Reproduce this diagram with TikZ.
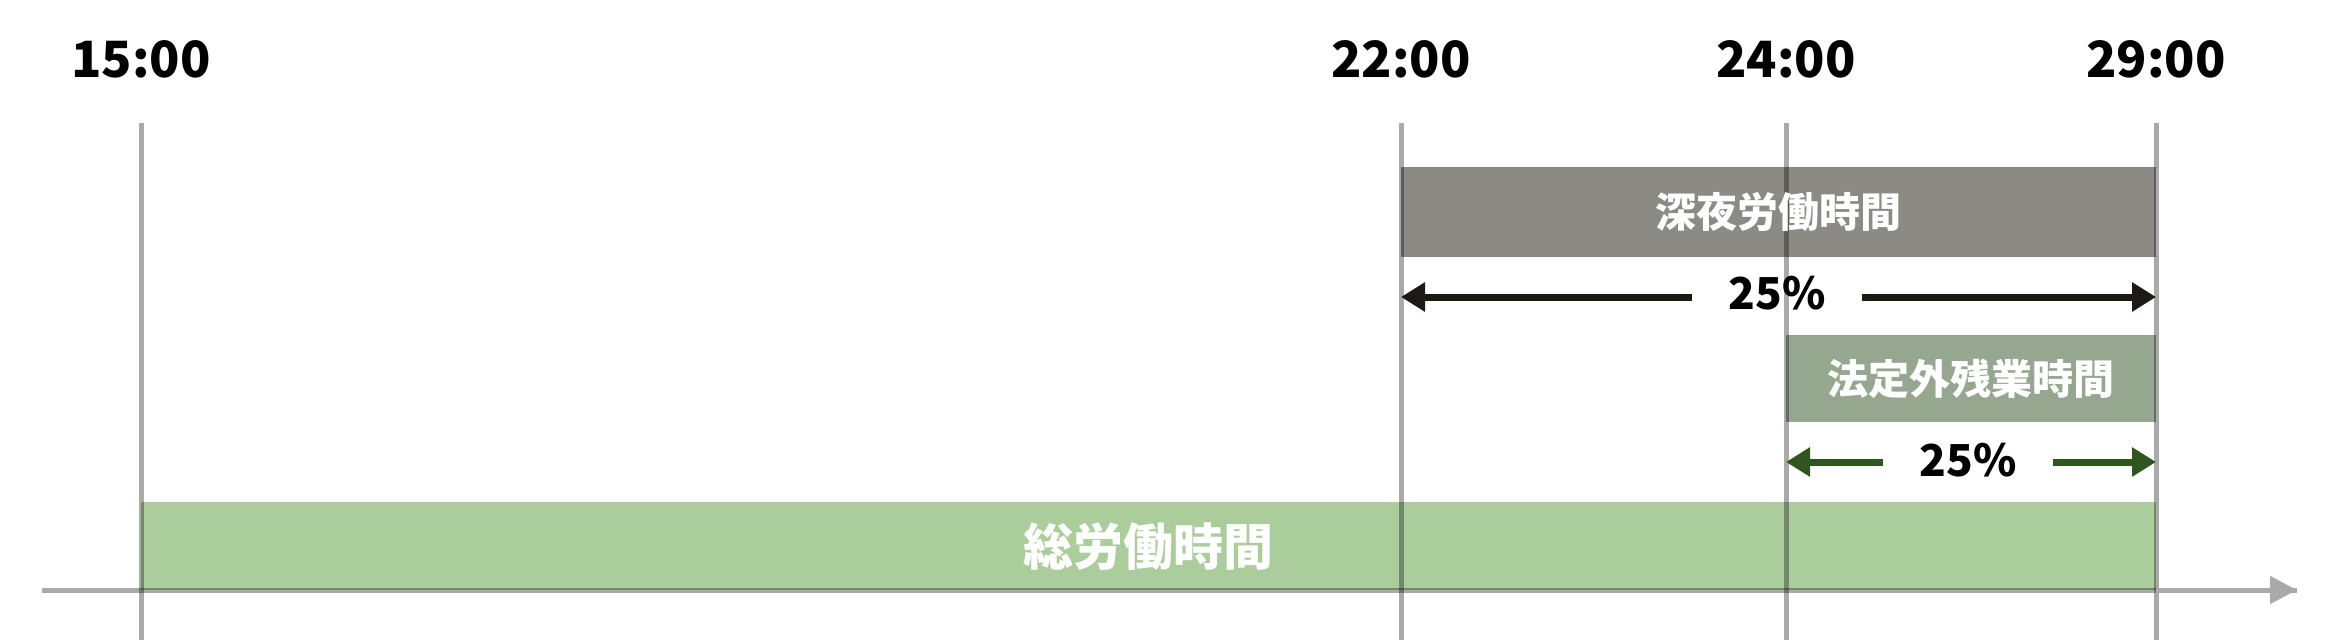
\documentclass[tikz,border=0pt]{standalone}
\usepackage{fontspec}
\setmainfont{Noto Sans CJK JP}
\usetikzlibrary{arrows.meta}
\definecolor{guide}{HTML}{AAAAAA}
\definecolor{nightgray}{HTML}{8B8A85}
\definecolor{overgreen}{HTML}{95A78E}
\definecolor{totalgreen}{HTML}{ABCD9C}
\definecolor{arrowblack}{HTML}{1C1A12}
\definecolor{arrowgreen}{HTML}{2E561E}

\begin{document}
\begin{tikzpicture}[x=1pt, y=-1pt,
    every node/.style={inner sep=0pt, font=\bfseries},
    timelbl/.style={anchor=base, font=\fontsize{50}{60}\selectfont\bfseries},
    bar/.style={anchor=north west, draw=none},
    bartext/.style={text=white, font=\fontsize{41}{50}\selectfont\bfseries},
    pct/.style={inner xsep=36pt, font=\fontsize{44}{52}\selectfont\bfseries},
    guideline/.style={draw=guide, line width=5pt, blend mode=multiply},
    pctarrow/.style={line width=7pt, -{Triangle[length=24pt,width=28pt]}}]
    \useasboundingbox (0,0) rectangle (2326,640);
    % time labels and guide ends
    \foreach \t/\x in {15/141,22/1401,24/1786,29/2156} {
        \node[timelbl] (t\t) at (\x,77) {\t:00};
        \coordinate (top\t) at (\x,123);
        \coordinate (bot\t) at (\x,640);
    }
    % bars
    \node[bar, fill=nightgray, minimum width=755pt, minimum height=90pt] (night) at (1401,167) {};
    \node[bar, fill=overgreen, minimum width=370pt, minimum height=87pt] (over) at (1786,335) {};
    \node[bar, fill=totalgreen, minimum width=2015pt, minimum height=88pt] (total) at (141,502) {};
    % guides and axis
    \foreach \t in {15,22,24,29} {
        \draw[guideline] (top\t) -- (bot\t);
    }
    \coordinate (ax0) at (42,590);
    \coordinate (ax1) at (2297,590);
    \draw[guideline] (ax0) -- (ax1);
    \draw[draw=guide, line width=5pt, -{Triangle[length=27pt,width=27pt,fill=guide]}] (top29 |- ax0) -- (ax1);
    % bar texts
    \node[bartext] (nightlbl) at (night.center) {深夜労働時間};
    \node[bartext] (overlbl) at (over.center) {法定外残業時間};
    \node[bartext, font=\fontsize{50}{60}\selectfont\bfseries] (totallbl) at (total.center) {総労働時間};
    % rate arrows
    \coordinate (n0) at (1401,297);
    \coordinate (n1) at (2156,297);
    \node[pct] (nightpct) at (1777,293) {25\%};
    \draw[pctarrow, arrowblack] (nightpct.west |- n0) -- (n0);
    \draw[pctarrow, arrowblack] (nightpct.east |- n1) -- (n1);
    \coordinate (o0) at (1786,462);
    \coordinate (o1) at (2156,462);
    \node[pct] (overpct) at (1968,460) {25\%};
    \draw[pctarrow, arrowgreen] (overpct.west |- o0) -- (o0);
    \draw[pctarrow, arrowgreen] (overpct.east |- o1) -- (o1);
\end{tikzpicture}
\end{document}
